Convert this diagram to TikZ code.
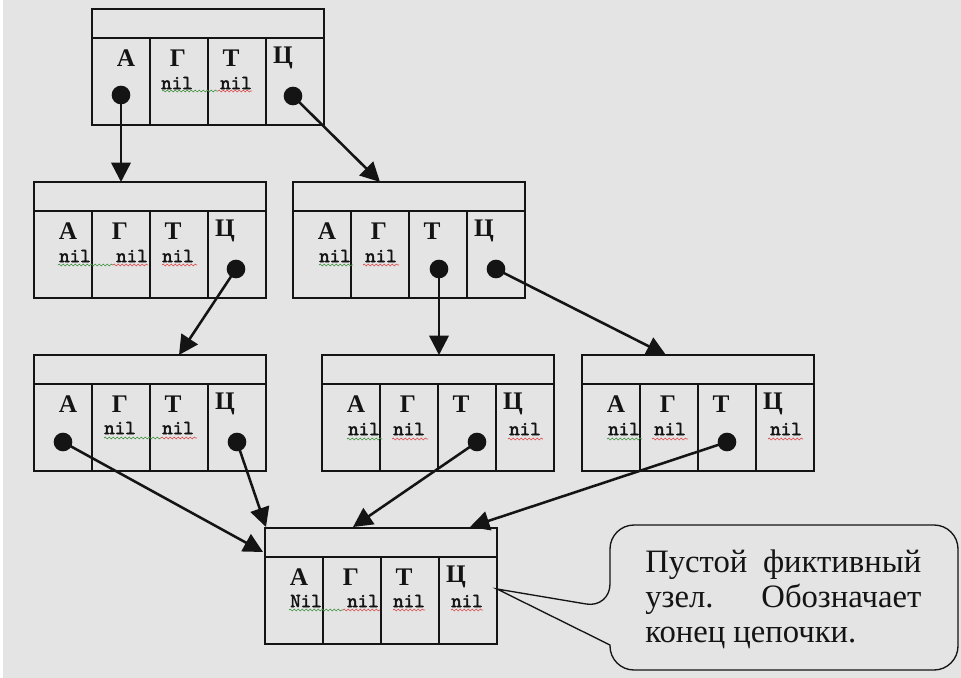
\documentclass[tikz,border=0pt]{standalone}
\usepackage{fontspec}
\setmainfont{Liberation Serif}
\newfontfamily\cellfont{Liberation Serif}
\newfontfamily\nilfont[Extension=.otf,FakeBold=2]{lmmono10-regular}
\usetikzlibrary{arrows.meta,calc,decorations.pathmorphing}
\definecolor{bggray}{RGB}{228,228,228}
\definecolor{ink}{RGB}{20,20,20}
\definecolor{sqgreen}{RGB}{70,150,70}
\definecolor{sqred}{RGB}{225,80,80}
\tikzset{
  recbox/.style={draw=ink, line width=1.1pt, minimum width=174pt, minimum height=87pt, inner sep=0pt, outer sep=0pt},
  recline/.style={draw=ink, line width=1.1pt},
  letter/.style={font=\cellfont\bfseries\fontsize{19}{19}\selectfont, inner sep=0pt, text=ink},
  niltext/.style={font=\nilfont\fontsize{15}{15}\selectfont, inner sep=0pt, text=ink},
  ptr/.style={circle, fill=ink, minimum size=14pt, inner sep=0pt},
  link/.style={draw=ink, line width=1.9pt, -{Triangle[length=14.5pt,width=14.5pt]}},
  squig/.style={decorate, decoration={snake, amplitude=0.7pt, segment length=3pt}, line width=0.5pt},
  callout/.style={draw=ink, line width=1pt},
  calltext/.style={font=\fontsize{24.5}{26}\selectfont, inner sep=0pt, anchor=base west, text=ink},
}
% one trie record: header strip and four cells labelled A, G, T, C
\newcommand\recnode[3]{%
  \node[recbox] (#1) at ({#2+116},{#3+58}) {};
  \draw[recline] ({#2},{#3+29}) -- ({#2+232},{#3+29});
  \foreach \k in {58,116,174}{\draw[recline] ({#2+\k},{#3+29}) -- ({#2+\k},{#3+116});}
  \node[letter] (#1-a) at ({#2+34},{#3+49}) {А};
  \node[letter] (#1-g) at ({#2+86},{#3+49}) {Г};
  \node[letter] (#1-t) at ({#2+139},{#3+49}) {Т};
  \node[letter] (#1-c) at ({#2+191},{#3+49}) {Ц};
}
\newcommand\nilat[4]{\node[niltext] (#1) at (#2,#3) {#4};}
\newcommand\wavy[4]{\draw[squig,#1] (#2,#4) -- (#3,#4);}

\begin{document}
\begin{tikzpicture}[x=0.75pt,y=-0.75pt]
  \useasboundingbox (0,0) rectangle (961,678);
  \fill[white] (0,0) rectangle (961,678);
  \fill[bggray] (3,0) rectangle (961,678);

  % records
  \recnode{n1}{92}{9}
  \recnode{n2}{34}{182}
  \recnode{n3}{293}{182}
  \recnode{n4}{34}{355}
  \recnode{n5}{322}{355}
  \recnode{n6}{582}{355}
  \recnode{n7}{265}{528}

  % empty references
  \nilat{n1-gn}{177}{83}{nil}  \nilat{n1-tn}{236}{83}{nil}
  \wavy{sqgreen}{162}{218}{91} \wavy{sqred}{218}{252}{91}

  \nilat{n2-an}{75}{256}{nil}  \nilat{n2-gn}{132}{256}{nil}  \nilat{n2-tn}{178}{256}{nil}
  \wavy{sqgreen}{58}{113}{265} \wavy{sqred}{113}{148}{265} \wavy{sqred}{162}{197}{265}

  \nilat{n3-an}{335}{256}{nil} \nilat{n3-gn}{381}{256}{nil}
  \wavy{sqgreen}{319}{353}{265} \wavy{sqred}{363}{399}{265}

  \nilat{n4-gn}{120}{428}{nil} \nilat{n4-tn}{178}{428}{nil}
  \wavy{sqgreen}{104}{161}{438} \wavy{sqred}{161}{197}{438}

  \nilat{n5-an}{364}{429}{nil} \nilat{n5-gn}{409}{429}{nil} \nilat{n5-cn}{525}{429}{nil}
  \wavy{sqgreen}{347}{382}{439} \wavy{sqred}{392}{428}{439} \wavy{sqred}{508}{543}{439}

  \nilat{n6-an}{624}{429}{nil} \nilat{n6-gn}{670}{429}{nil} \nilat{n6-cn}{786}{429}{nil}
  \wavy{sqgreen}{607}{642}{439} \wavy{sqred}{652}{688}{439} \wavy{sqred}{768}{803}{439}

  \nilat{n7-an}{306}{601}{Nil} \nilat{n7-gn}{363}{601}{nil}
  \nilat{n7-tn}{409}{601}{nil} \nilat{n7-cn}{467}{601}{nil}
  \wavy{sqgreen}{289}{343}{610} \wavy{sqred}{343}{380}{610}
  \wavy{sqred}{393}{425}{610} \wavy{sqred}{451}{483}{610}

  % child pointers
  \node[ptr] (p1a) at (121,95) {};
  \node[ptr] (p1c) at (293,96) {};
  \node[ptr] (p2c) at (236,269) {};
  \node[ptr] (p3t) at (439,269) {};
  \node[ptr] (p3c) at (496,269) {};
  \node[ptr] (p4a) at (63,442) {};
  \node[ptr] (p4c) at (237,442) {};
  \node[ptr] (p5t) at (477,442) {};
  \node[ptr] (p6t) at (727,442) {};

  \draw[link] (p1a.center) -- ($(n2.north west)+(87,0)$);
  \draw[link] (p1c.center) -- ($(n3.north west)+(87,0)$);
  \draw[link] (p2c.center) -- ($(n4.north west)+(145,0)$);
  \draw[link] (p3t.center) -- ($(n5.north west)+(117,0)$);
  \draw[link] (p3c.center) -- ($(n6.north west)+(84,0)$);
  \draw[link] (p4a.center) -- ($(n7.north west)+(-2,24)$);
  \draw[link] (p4c.center) -- ($(n7.north west)+(1,-1)$);
  \draw[link] (p5t.center) -- ($(n7.north west)+(88,-1)$);
  \draw[link] (p6t.center) -- ($(n7.north west)+(205,-1)$);

  % speech bubble with its tail on the sentinel record
  \coordinate (tip) at ($(n7.east)+(0,3)$);
  \draw[callout] (tip) -- (610,645) [rounded corners=18pt] -- (610,670) -- (958,670)
        -- (958,525) -- (610,525) -- (610,608) [sharp corners] -- cycle;
  \node[calltext] (ct1) at (645,572) {\makebox[207pt][s]{Пустой фиктивный}};
  \node[calltext] (ct2) at (645,607) {\makebox[207pt][s]{узел. Обозначает}};
  \node[calltext] (ct3) at (645,642) {конец цепочки.};
\end{tikzpicture}
\end{document}
